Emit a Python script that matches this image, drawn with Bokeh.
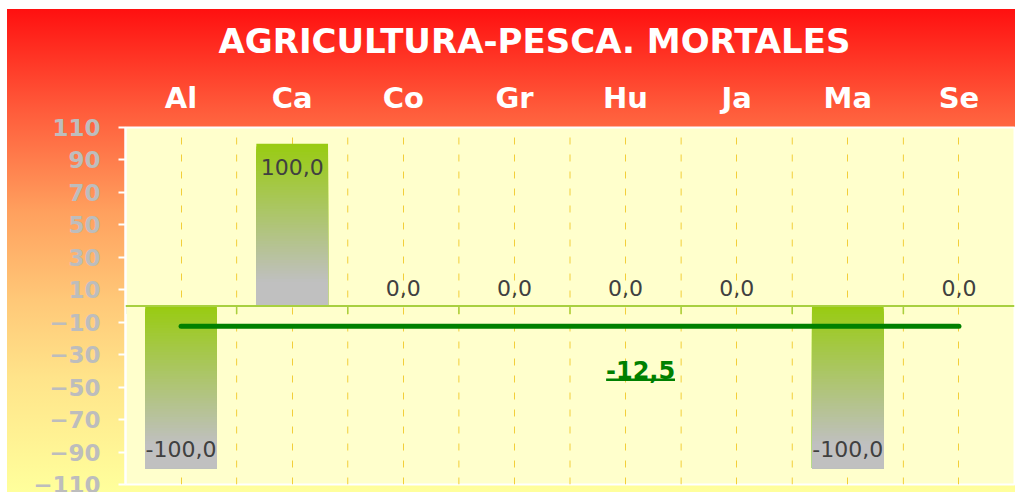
import numpy as np
from bokeh.plotting import figure
from bokeh.models import FactorRange, FixedTicker, Span, ColumnDataSource, Range1d
from bokeh.transform import dodge
from bokeh.core.properties import value
from bokeh.embed import file_html
from bokeh.resources import INLINE

# ---------------- data ----------------
title_text = "AGRICULTURA-PESCA. MORTALES"
categories = ["Al", "Ca", "Co", "Gr", "Hu", "Ja", "Ma", "Se"]
values = [-100.0, 100.0, 0.0, 0.0, 0.0, 0.0, -100.0, 0.0]
y_ticks = [-110, -90, -70, -50, -30, -10, 10, 30, 50, 70, 90, 110]


def fmt(v):
    return f"{v:.1f}".replace(".", ",")


mean_value = sum(values) / len(values)

FONT = "DejaVu Sans"
GREEN_TOP = np.array([153, 204, 17])
GRAY_BOT = np.array([192, 192, 192])

p = figure(
    x_range=FactorRange(*categories),
    y_range=Range1d(y_ticks[0], y_ticks[-1]),
    width=1015, height=492,
    output_backend="svg", toolbar_location=None,
    x_axis_location="above",
    min_border_left=125, min_border_right=1, min_border_bottom=8, min_border_top=127,
)
p.styles = {
    "background-image": (
        "linear-gradient(to right, #ffffff 0px, #ffffff 7px, rgba(255,255,255,0) 7px), "
        "linear-gradient(to bottom, #ffffff 0px, #ffffff 9px, #ff1010 9px, #ff5a3a 22%, "
        "#ffa05e 43%, #ffc878 61%, #ffe48a 77%, #ffff9c 100%)"
    )
}
p.border_fill_alpha = 0
p.background_fill_color = "#FFFFCC"
p.outline_line_color = "white"
p.outline_line_width = 2

# title
p.title.text = title_text
p.title.align = "left"
p.title.offset = 93
p.title.text_color = "white"
p.title.text_font = FONT
p.title.text_font_style = "bold"
p.title.text_font_size = "34px"
p.title.text_line_height = 1.0
p.title.standoff = 34

# x axis (top)
xa = p.xaxis[0]
xa.axis_line_color = None
xa.major_tick_line_color = None
xa.minor_tick_line_color = None
xa.major_label_text_color = "white"
xa.major_label_text_font = FONT
xa.major_label_text_font_style = "bold"
xa.major_label_text_font_size = "29px"
xa.major_label_standoff = 7

# y axis
ya = p.yaxis[0]
ya.ticker = FixedTicker(ticks=y_ticks)
ya.axis_line_color = "white"
ya.axis_line_width = 2
ya.major_tick_line_color = "white"
ya.major_tick_line_width = 2
ya.major_tick_out = 7
ya.major_tick_in = 0
ya.minor_tick_line_color = None
ya.major_label_text_color = "#BDBDBD"
ya.major_label_text_font = FONT
ya.major_label_text_font_style = "bold"
ya.major_label_text_font_size = "23px"
ya.major_label_standoff = 18

# grids
p.ygrid.grid_line_color = None
p.xgrid.grid_line_color = "#F2CE3A"
p.xgrid.grid_line_dash = "7 10"
p.xgrid.grid_line_width = 1

bsrc = ColumnDataSource(dict(cat=categories))
p.segment(x0=dodge("cat", -0.5, range=p.x_range), x1=dodge("cat", -0.5, range=p.x_range),
          y0=y_ticks[0], y1=y_ticks[-1], source=bsrc,
          line_color="#F2CE3A", line_dash="7 10", line_width=1)

# zero line + small ticks
p.add_layout(Span(location=0, dimension="width", line_color="#A8D040", line_width=2))
p.segment(x0=dodge("cat", -0.5, range=p.x_range), x1=dodge("cat", -0.5, range=p.x_range),
          y0=0, y1=-5, source=bsrc, line_color="#A8D040", line_width=1.5)

# gradient bars: nested rectangles drawn top-down (no gaps between slices)
N = 60
seg_x, seg_top, seg_bot, seg_col = [], [], [], []
for c, v in zip(categories, values):
    if v == 0:
        continue
    hi, lo = max(v, 0.0), min(v, 0.0)
    edges = np.linspace(hi, lo, N + 1)
    for i in range(N):
        t = (i + 0.5) / N
        f = min(t / 0.85, 1.0)
        col = (GREEN_TOP * (1 - f) + GRAY_BOT * f).astype(int)
        seg_x.append(c)
        seg_top.append(edges[i])
        seg_bot.append(lo)
        seg_col.append("#%02x%02x%02x" % tuple(col))
p.vbar(x=seg_x, top=seg_top, bottom=seg_bot, width=0.645, fill_color=seg_col,
       line_color=None)

# mean line
p.line(x=[categories[0], categories[-1]], y=[mean_value, mean_value],
       line_color="#008000", line_width=5, line_cap="round")

# value labels
yoff = [23 if v > 0 else (-19 if v < 0 else -18) for v in values]
lsrc = ColumnDataSource(dict(x=categories, y=values, t=[fmt(v) for v in values], yo=yoff))
p.text(x="x", y="y", text="t", y_offset="yo", source=lsrc,
       text_align="center", text_baseline="middle",
       text_font=value(FONT), text_font_size="22px", text_color="#404040")

# mean label (underlined)
msrc = ColumnDataSource(dict(x=["Hu"], y=[mean_value], t=[fmt(mean_value)]))
p.text(x=dodge("x", 0.135, range=p.x_range), y="y", text="t", source=msrc,
       y_offset=44, text_align="center", text_baseline="middle",
       text_font=value(FONT), text_font_style="bold", text_font_size="24px",
       text_color="#008000")
p.segment(x0=dodge("x", -0.175, range=p.x_range), x1=dodge("x", 0.445, range=p.x_range),
          y0=mean_value - 33, y1=mean_value - 33, source=msrc,
          line_color="#008000", line_width=2.5)

open("out.html", "w").write(file_html(p, INLINE))
